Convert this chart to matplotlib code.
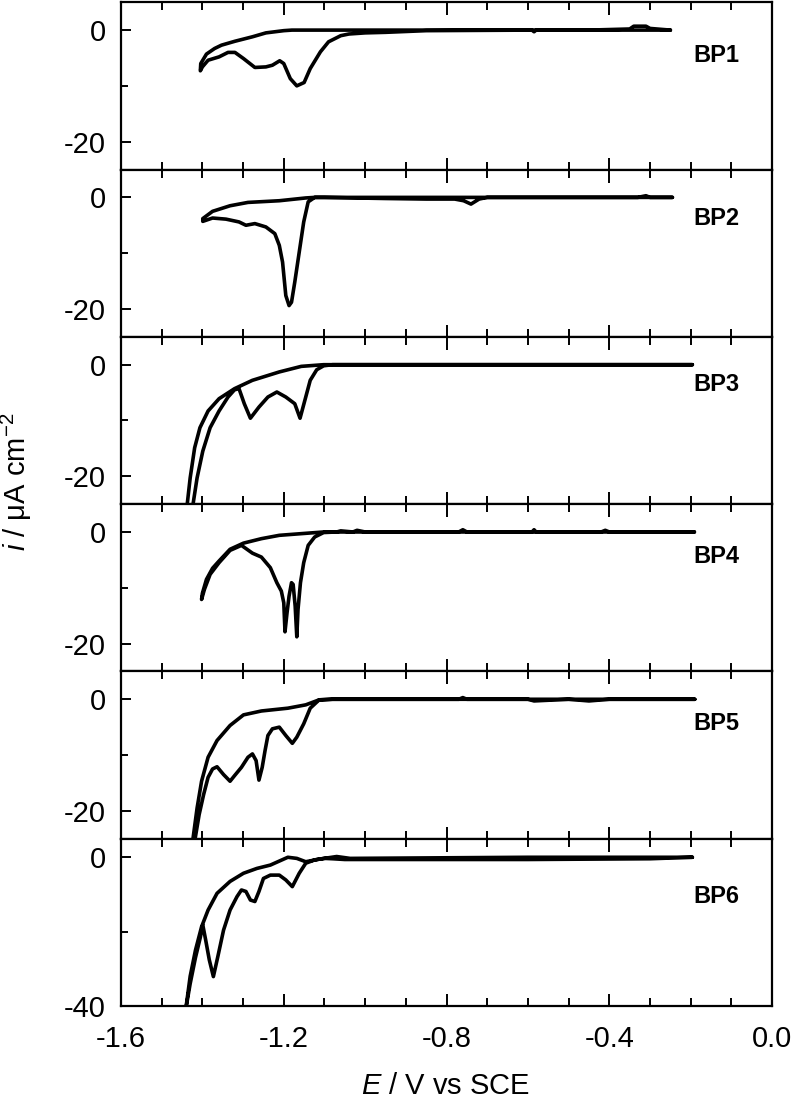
import matplotlib
matplotlib.use("Agg")
import matplotlib.pyplot as plt
import matplotlib.ticker as ticker

plt.rcParams['font.family'] = ['Liberation Sans', 'DejaVu Sans']
plt.rcParams['mathtext.fontset'] = 'custom'
plt.rcParams['mathtext.rm'] = 'Liberation Sans'
plt.rcParams['mathtext.it'] = 'Liberation Sans:italic'
plt.rcParams['mathtext.default'] = 'regular'
plt.rcParams['axes.unicode_minus'] = False

#-- CV curves (E in V vs SCE, i in uA cm-2)
bp1_E = [-0.25, -0.30, -0.31, -0.34, -0.35, -0.45, -0.58, -0.585, -0.59, -0.85, -0.95, -1.00, -1.04, -1.06,
         -1.09, -1.11, -1.135, -1.15, -1.168, -1.184, -1.20, -1.21, -1.228, -1.244, -1.271, -1.299, -1.32,
         -1.337, -1.359, -1.386, -1.40, -1.405,
         -1.404, -1.39, -1.37, -1.353, -1.32, -1.277, -1.244, -1.20, -1.18, -0.9, -0.6, -0.25]
bp1_i = [0.0, 0.3, 0.7, 0.7, 0.2, 0.0, 0.0, -0.3, 0.0, -0.1, -0.4, -0.5, -0.7, -1.0,
         -2.1, -3.9, -6.9, -9.4, -10.0, -8.7, -6.0, -5.5, -6.3, -6.6, -6.7, -5.1, -4.0,
         -4.0, -4.8, -5.4, -6.6, -7.3,
         -6.0, -4.3, -3.3, -2.7, -2.0, -1.2, -0.5, -0.1, 0.0, 0.0, 0.0, 0.0]

bp2_E = [-0.245, -0.30, -0.31, -0.33, -0.70, -0.72, -0.74, -0.758, -0.78, -0.85, -0.95, -1.10, -1.124,
         -1.14, -1.151, -1.162, -1.173, -1.181, -1.187, -1.195, -1.203, -1.211, -1.222, -1.244, -1.271,
         -1.293, -1.31, -1.342, -1.375, -1.399,
         -1.399, -1.375, -1.332, -1.288, -1.211, -1.146, -1.124, -0.6, -0.245]
bp2_i = [0.0, 0.0, 0.3, 0.0, 0.0, -0.3, -1.2, -0.6, -0.3, -0.3, -0.2, 0.0, 0.0,
         -0.8, -4.4, -9.8, -15.2, -18.8, -19.4, -17.6, -11.6, -8.6, -6.5, -5.3, -4.7,
         -5.0, -4.4, -3.9, -3.7, -4.3,
         -3.8, -2.5, -1.5, -0.9, -0.6, -0.1, 0.0, 0.0, 0.0]

bp3_E = [-0.196, -0.6, -1.0, -1.08, -1.102, -1.119, -1.135, -1.146, -1.16, -1.173, -1.195, -1.217, -1.239,
         -1.261, -1.282, -1.297, -1.31, -1.321, -1.337, -1.359, -1.381, -1.399, -1.413, -1.424,
         -1.438, -1.43, -1.419, -1.406, -1.386, -1.359, -1.321, -1.277, -1.211, -1.157, -1.102, -0.6, -0.196]
bp3_i = [0.0, 0.0, 0.0, 0.0, -0.2, -0.9, -2.8, -5.8, -9.6, -7.0, -5.8, -4.9, -5.8,
         -7.6, -9.6, -7.0, -4.3, -4.5, -5.8, -8.3, -11.3, -15.5, -20.3, -25.5,
         -25.5, -20.3, -14.9, -11.3, -8.3, -6.1, -4.3, -2.8, -1.3, -0.3, 0.0, 0.0, 0.0]

bp4_E = [-0.191, -0.40, -0.41, -0.42, -0.58, -0.585, -0.59, -0.75, -0.76, -0.77, -1.0, -1.02, -1.03, -1.06,
         -1.07, -1.102, -1.124, -1.14, -1.151, -1.159, -1.165, -1.168, -1.172, -1.177, -1.181, -1.187,
         -1.192, -1.197, -1.20, -1.206, -1.217, -1.233, -1.255, -1.277, -1.304, -1.332, -1.359, -1.381,
         -1.395, -1.402,
         -1.400, -1.390, -1.375, -1.359, -1.332, -1.299, -1.255, -1.211, -1.157, -1.102, -0.191]
bp4_i = [0.0, 0.0, 0.3, 0.0, 0.0, 0.4, 0.0, 0.0, 0.4, 0.0, 0.0, 0.3, 0.0, 0.2,
         0.0, -0.1, -0.9, -2.4, -5.5, -9.1, -13.9, -18.8, -13.3, -9.4, -9.1, -11.5,
         -14.5, -17.9, -12.7, -10.6, -9.1, -6.4, -4.5, -3.8, -2.4, -3.3, -5.5, -7.6,
         -10.3, -12.1,
         -11.0, -8.5, -6.5, -5.2, -3.1, -2.0, -1.2, -0.6, -0.3, 0.0, 0.0]

bp5_E = [-0.19, -0.40, -0.45, -0.50, -0.585, -0.60, -0.75, -0.76, -0.77, -1.05, -1.08, -1.113, -1.135,
         -1.151, -1.168, -1.179, -1.195, -1.211, -1.228, -1.239, -1.246, -1.253, -1.261, -1.268, -1.277,
         -1.288, -1.304, -1.321, -1.332, -1.348, -1.364, -1.375, -1.386, -1.397, -1.408, -1.419,
         -1.424, -1.413, -1.402, -1.386, -1.364, -1.332, -1.299, -1.255, -1.19, -1.146, -1.113, -1.08, -0.19]
bp5_i = [0.0, 0.0, -0.3, 0.0, -0.3, 0.0, 0.0, 0.3, 0.0, 0.0, 0.0, -0.1, -1.6,
         -4.4, -6.8, -7.9, -6.5, -5.0, -5.3, -6.5, -9.2, -12.2, -14.5, -11.0, -9.8,
         -10.4, -12.2, -13.7, -14.7, -13.5, -12.1, -12.5, -14.0, -17.1, -20.7, -25.5,
         -25.5, -19.5, -14.7, -10.4, -7.4, -4.7, -2.8, -2.1, -1.6, -1.0, -0.1, 0.0, 0.0]

bp6_E = [-0.196, -0.30, -0.6, -0.9, -1.05, -1.08, -1.10, -1.124, -1.146, -1.162, -1.179, -1.195, -1.211,
         -1.233, -1.25, -1.261, -1.271, -1.282, -1.293, -1.304, -1.315, -1.332, -1.348, -1.362, -1.373,
         -1.383, -1.392, -1.399, -1.405, -1.417, -1.430, -1.441,
         -1.441, -1.43, -1.417, -1.402, -1.386, -1.364, -1.332, -1.299, -1.266, -1.233, -1.19, -1.168,
         -1.146, -1.113, -1.07, -1.037, -0.6, -0.196]
bp6_i = [0.0, -0.4, -0.6, -0.6, -0.6, -0.4, -0.3, -0.7, -1.6, -4.3, -7.9, -6.1, -4.8,
         -4.8, -5.7, -9.2, -11.9, -11.5, -9.2, -8.8, -10.6, -14.2, -19.6, -26.7, -32.1,
         -27.6, -22.2, -18.2, -21.5, -27.0, -34.0, -41.0,
         -41.0, -32.0, -25.0, -18.7, -14.2, -9.7, -6.5, -4.3, -3.0, -2.1, 0.0, -0.3,
         -1.2, -0.5, 0.2, -0.3, 0.0, 0.0]

names = ['BP1', 'BP2', 'BP3', 'BP4', 'BP5', 'BP6']
curves = [(bp1_E, bp1_i), (bp2_E, bp2_i), (bp3_E, bp3_i),
          (bp4_E, bp4_i), (bp5_E, bp5_i), (bp6_E, bp6_i)]
label_y = [0.68, 0.71, 0.715, 0.687, 0.69, 0.653]

fig, axes = plt.subplots(6, 1, sharex=True, figsize=(7.96, 11.09), dpi=100)
fig.subplots_adjust(left=0.152, right=0.970, top=0.998, bottom=0.0929, hspace=0)

for k, ax in enumerate(axes):
    E, i = curves[k]
    ax.plot(E, i, color='black', lw=2.6, solid_joinstyle='round', solid_capstyle='round')
    ax.text(0.915, label_y[k], names[k], transform=ax.transAxes, ha='center', va='center',
            fontsize=17, fontweight='bold')
    if k < 5:
        ax.set_ylim(-25, 5)
        ax.set_yticks([0, -20])
        ax.set_yticks([-10], minor=True)
    else:
        ax.set_ylim(-40, 5)
        ax.set_yticks([0, -40])
        ax.set_yticks([-20], minor=True)
    ax.set_xlim(-1.6, 0.0)
    ax.xaxis.set_major_locator(ticker.MultipleLocator(0.4))
    ax.xaxis.set_minor_locator(ticker.MultipleLocator(0.1))
    ax.xaxis.set_major_formatter(ticker.FormatStrFormatter('%.1f'))
    for s in ax.spines.values():
        s.set_linewidth(1.6)
    ax.tick_params(axis='x', which='both', direction='in', top=True, bottom=True, width=1.4, labelsize=21, pad=14)
    ax.tick_params(axis='x', which='major', length=9)
    ax.tick_params(axis='x', which='minor', length=5.5)
    ax.tick_params(axis='y', which='both', direction='in', left=True, right=False, width=1.4, labelsize=21, pad=11)
    ax.tick_params(axis='y', which='major', length=7.5)
    ax.tick_params(axis='y', which='minor', length=5)

fig.text(16 / 796, 1 - 482 / 1109, r'$\mathit{i}$ / μA cm$^{-2}$', rotation=90, ha='center', va='center', fontsize=21)
fig.text(446 / 796, 1 - 1086 / 1109, r'$\mathit{E}$ / V vs SCE', ha='center', va='center', fontsize=21)

fig.savefig("out.png", dpi=100)
